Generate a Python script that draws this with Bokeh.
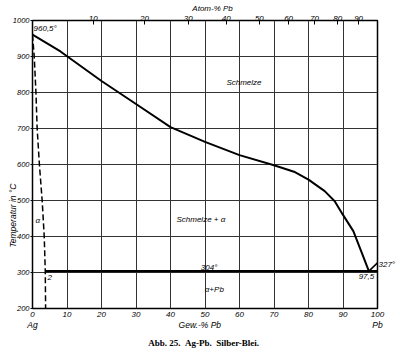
import math
from bokeh.plotting import figure
from bokeh.models import FixedTicker, LinearAxis, CustomJSTickFormatter
from bokeh.core.properties import value
from bokeh.embed import file_html
from bokeh.resources import INLINE

# Liquidus (wt.-% Pb, deg C)
liq_wt = [0, 8.1, 20, 30, 40, 50, 60, 70, 75.8, 80, 84.7, 87.6, 90, 93, 95.4, 97.5]
liq_t = [960.5, 914, 832, 768, 704, 663, 626, 598, 580, 558, 526, 498, 460, 415, 356, 304]
# Solid solubility of Pb in Ag (dashed)
sol_wt = [0, 0.5, 1.0, 1.35, 2.0, 2.8, 3.4, 3.7, 3.8]
sol_t = [960.5, 900, 800, 700, 600, 500, 400, 304, 200]
# Eutectic horizontal and Pb branch
eut_wt = [3.7, 100]
eut_t = [304, 304]
pb_wt = [97.5, 100]
pb_t = [304, 327]

wt_ticks = [0, 10, 20, 30, 40, 50, 60, 70, 80, 90, 100]
t_ticks = [200, 300, 400, 500, 600, 700, 800, 900, 1000]
atom_labels = [10, 20, 30, 40, 50, 60, 70, 80, 90]
M_AG, M_PB = 107.87, 207.2
atom_pos = [round(a * M_PB / (a * M_PB + (100 - a) * M_AG) * 100, 2) for a in atom_labels]

FONT = "Liberation Sans"

p = figure(width=400, height=354, x_range=(0, 100), y_range=(200, 1000),
           output_backend="svg", toolbar_location=None,
           min_border_left=32, min_border_right=23, min_border_top=20, min_border_bottom=46)
p.background_fill_color = "white"
p.border_fill_color = "white"
p.outline_line_color = "black"
p.outline_line_width = 1.5


def style(ax, size="8px", font=FONT, fstyle="italic", standoff=1, tin=0, tout=0):
    ax.axis_line_color = None
    ax.minor_tick_line_color = None
    ax.major_tick_in = tin
    ax.major_tick_out = tout
    ax.major_tick_line_color = "black" if (tin or tout) else None
    ax.major_label_standoff = standoff
    ax.major_label_text_font = font
    ax.major_label_text_font_style = fstyle
    ax.major_label_text_font_size = size
    ax.major_label_text_color = "black"


xa = p.below[0]
xa.ticker = FixedTicker(ticks=wt_ticks)
style(xa, standoff=3)

xa2 = LinearAxis(ticker=FixedTicker(ticks=[0, 48.5, 100]),
                 major_label_overrides={0: "Ag", 48.5: "Gew.-% Pb", 100: "Pb"})
style(xa2, size="8.5px", standoff=0)
p.add_layout(xa2, "below")

xa3 = LinearAxis(ticker=FixedTicker(ticks=[49.6]),
                 major_label_overrides={49.6: "Abb.\u00a025.\u00a0\u00a0Ag-Pb.\u00a0\u00a0Silber-Blei."})
style(xa3, size="9px", font="Liberation Serif", fstyle="bold", standoff=5)
p.add_layout(xa3, "below")

ya = p.left[0]
ya.ticker = FixedTicker(ticks=t_ticks)
style(ya, size="7.5px", standoff=1, tout=2)

ya2 = LinearAxis(ticker=FixedTicker(ticks=[547]),
                 major_label_overrides={547: "Temperatur in °C"},
                 major_label_orientation=math.pi / 2)
style(ya2, size="8.5px", standoff=-4)
p.add_layout(ya2, "left")

ra = LinearAxis(ticker=FixedTicker(ticks=[323]), major_label_overrides={323: "327°"})
style(ra, standoff=1)
p.add_layout(ra, "right")

top = LinearAxis(ticker=FixedTicker(ticks=atom_pos),
                 formatter=CustomJSTickFormatter(args=dict(pos=atom_pos, lab=[str(a) for a in atom_labels]), code="""
let best = 0; let d = 1e9;
for (let i = 0; i < pos.length; i++) { const dd = Math.abs(pos[i] - tick); if (dd < d) { d = dd; best = i; } }
return lab[best];
"""))
style(top, standoff=0, tin=4)
p.add_layout(top, "above")

top2 = LinearAxis(ticker=FixedTicker(ticks=[52.2]), major_label_overrides={52.2: "Atom-% Pb"})
style(top2, standoff=0)
p.add_layout(top2, "above")

p.xgrid.ticker = FixedTicker(ticks=wt_ticks)
p.ygrid.ticker = FixedTicker(ticks=t_ticks)
for g in (p.xgrid, p.ygrid):
    g.grid_line_color = "#333333"
    g.grid_line_width = 1

p.line(liq_wt, liq_t, line_color="black", line_width=2)
p.line(sol_wt, sol_t, line_color="black", line_width=1.5, line_dash="6 3")
p.line(eut_wt, eut_t, line_color="black", line_width=2.2)
p.line(pb_wt, pb_t, line_color="black", line_width=1.6)

txt_x = [0.3, 61.3, 48.8, 1.5, 51.2, 52.7, 96.8, 5.0]
txt_y = [978, 829, 448, 445, 315, 253, 289, 287]
txt = ["960,5°", "Schmelze", "Schmelze + α", "α", "304°", "α+Pb", "97,5", "2"]
txt_align = ["left", "center", "center", "center", "center", "center", "center", "center"]
p.text(x=txt_x, y=txt_y, text=txt, text_align=txt_align, text_baseline="middle",
       text_font=value(FONT), text_font_style="italic", text_font_size="8px", text_color="black")

open("out.html", "w").write(file_html(p, INLINE))
